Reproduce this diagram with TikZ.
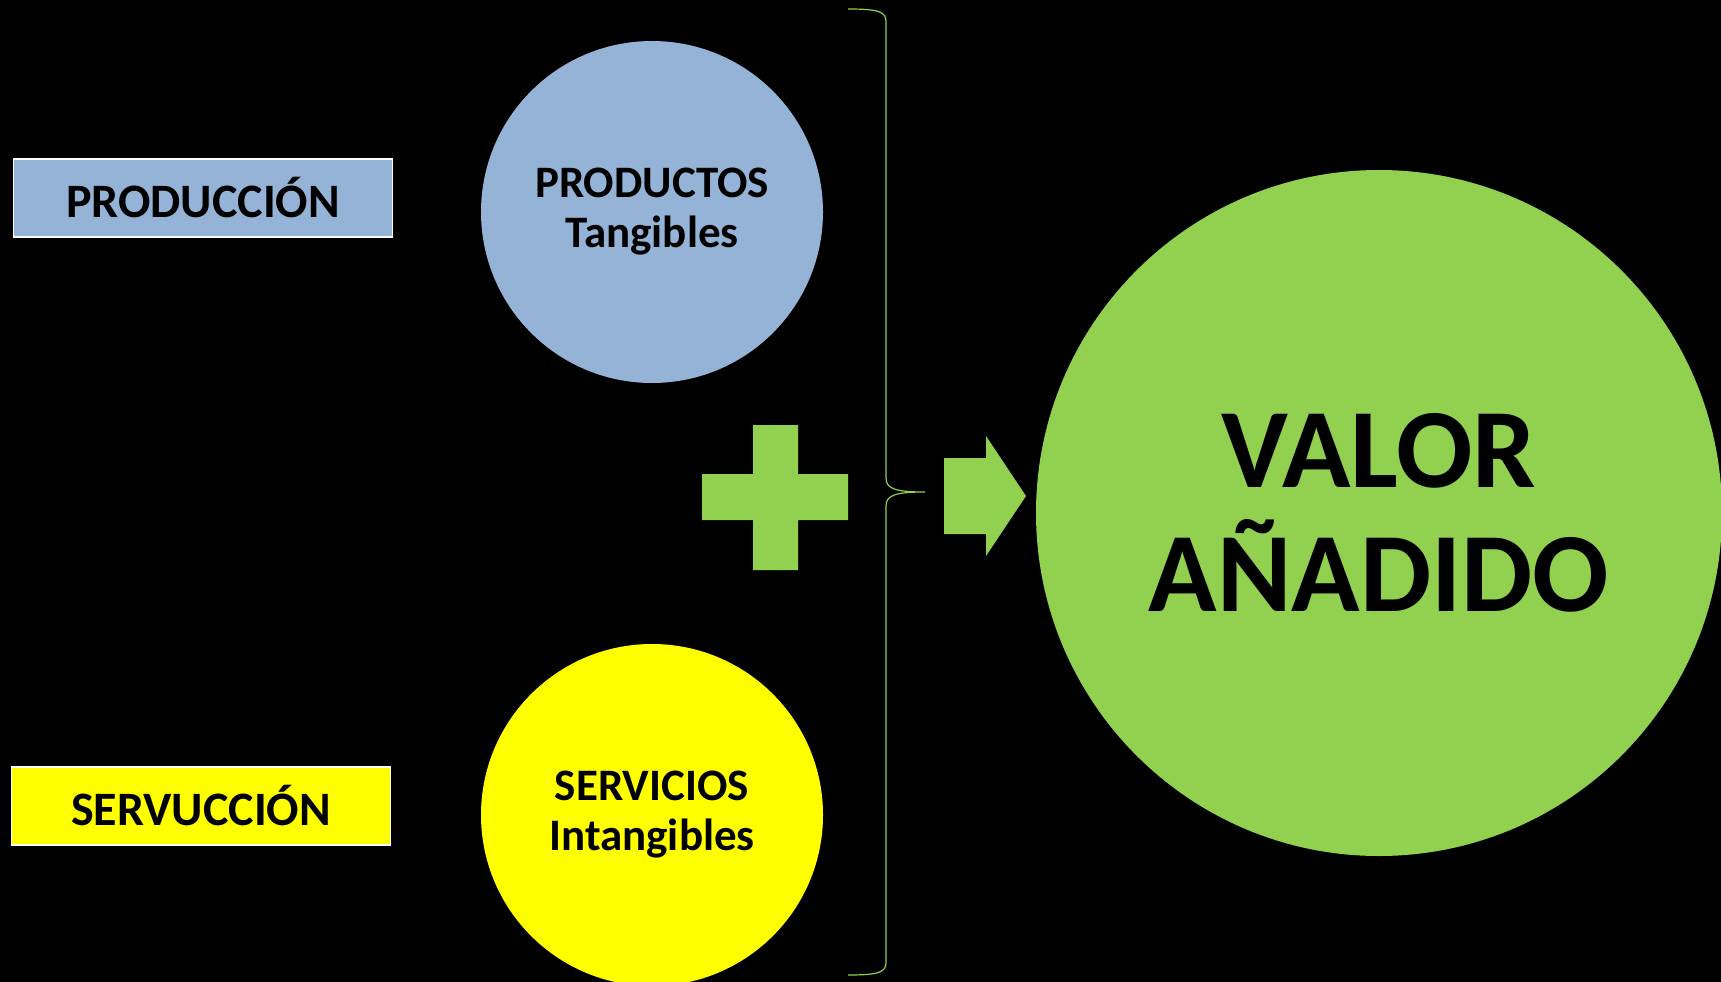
\documentclass[tikz,border=0pt]{standalone}
\usepackage{fontspec}
\setmainfont{Carlito}
\usetikzlibrary{calc}
\definecolor{prodblue}{HTML}{95B3D7}
\definecolor{servyellow}{HTML}{FFFF00}
\definecolor{valgreen}{HTML}{92D050}
\tikzset{
  labelbox/.style={rectangle, draw=white, line width=1.5pt, inner sep=0pt, minimum width=379pt, minimum height=78pt, font=\fontsize{48}{58}\selectfont\bfseries},
  kindcircle/.style={circle, inner sep=0pt, minimum size=342pt, align=center, font=\fontsize{45}{50}\selectfont\bfseries},
}

\begin{document}
\begin{tikzpicture}[x=1pt, y=-1pt]
      \useasboundingbox[fill=black] (0,0) rectangle (1721,982);

      \node[labelbox, fill=prodblue] (prod) at (203,198) {PRODUCCIÓN};
      \node[labelbox, fill=servyellow] (serv) at (201,806) {SERVUCCIÓN};

      \node[kindcircle, fill=prodblue] (productos) at (652,212) {PRODUCTOS\\Tangibles};
      \node[kindcircle, fill=servyellow] (servicios) at (652,815) {SERVICIOS\\Intangibles};

      \node[circle, fill=valgreen, inner sep=0pt, minimum size=686pt, align=center, font=\fontsize{113}{124}\selectfont\bfseries] (valor) at (1379,513) {VALOR\\AÑADIDO};

      % plus sign
      \fill[valgreen] (753,425) -- (798,425) -- (798,474) -- (848,474) -- (848,520) -- (798,520) -- (798,570) -- (753,570) -- (753,520) -- (702,520) -- (702,474) -- (753,474) -- cycle;

      % brace
      \draw[valgreen, line width=1.2pt] (848,9) .. controls (880,9) and (886,12) .. (886,22) -- (886,478) .. controls (886,489) and (896,492) .. (925,492) .. controls (896,492) and (886,495) .. (886,506) -- (886,962) .. controls (886,972) and (880,975) .. (848,975);

      % arrow
      \fill[valgreen] (944,458) -- (986,458) -- (986,436) -- (1026,496) -- (986,556) -- (986,534) -- (944,534) -- cycle;
    \end{tikzpicture}
\end{document}
